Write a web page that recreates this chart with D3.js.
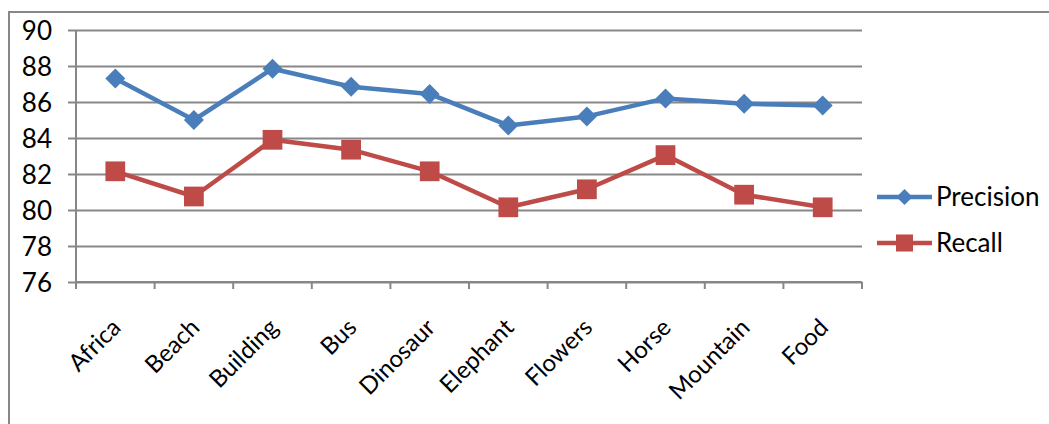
<!DOCTYPE html>
<html>
<head>
<meta charset="utf-8">
<script src="https://cdn.jsdelivr.net/npm/d3@7"></script>
<style>
  body { margin: 0; background: #fff; }
  svg { display: block; font-family: Lato, "Open Sans", sans-serif; }
</style>
</head>
<body>
<svg id="chart" width="1049" height="424"></svg>
<script>
const categories = ["Africa", "Beach", "Building", "Bus", "Dinosaur", "Elephant", "Flowers", "Horse", "Mountain", "Food"];
const precision = [87.3, 85.0, 87.85, 86.85, 86.45, 84.7, 85.2, 86.2, 85.9, 85.8];
const recall = [82.15, 80.75, 83.9, 83.35, 82.15, 80.15, 81.15, 83.05, 80.85, 80.15];
const yTicks = [76, 78, 80, 82, 84, 86, 88, 90];

const svg = d3.select("#chart");
const grey = "#878787";
const colors = {Precision: "#4A7EBB", Recall: "#BE4B48"};
const fontFam = 'Lato, "Open Sans", sans-serif';

// outer chart border (runs off the right and bottom of the picture)
svg.append("rect")
    .attr("x", 9).attr("y", 12)
    .attr("width", 1100).attr("height", 500)
    .attr("fill", "none")
    .attr("stroke", grey)
    .attr("stroke-width", 2);

const plotL = 76, plotR = 862, plotT = 30, plotB = 282;

const x = d3.scaleBand().domain(categories).range([plotL, plotR]);
const y = d3.scaleLinear().domain([76, 90]).range([plotB, plotT]);

// horizontal gridlines + y labels
const yAxis = svg.append("g")
    .attr("transform", `translate(${plotL},0)`)
    .call(d3.axisLeft(y).tickValues(yTicks).tickSize(-(plotR - plotL)).tickPadding(24).tickFormat(d3.format("d")))
    .attr("font-family", fontFam);
yAxis.select(".domain").remove();
yAxis.selectAll(".tick line").attr("stroke", grey).attr("stroke-width", 2).attr("x1", -8);
yAxis.selectAll(".tick text")
    .attr("fill", "#000")
    .style("font-size", "26px")
    .attr("dy", "0.36em");

// vertical axis line
svg.append("line")
    .attr("x1", plotL).attr("x2", plotL)
    .attr("y1", plotT).attr("y2", plotB)
    .attr("stroke", grey).attr("stroke-width", 2);

// x axis with tick marks on the category boundaries
const xg = svg.append("g").attr("transform", `translate(0,${plotB})`);
xg.append("line")
    .attr("x1", plotL).attr("x2", plotR)
    .attr("stroke", grey).attr("stroke-width", 2);
const bounds = categories.map(c => x(c)).concat([plotR]);
xg.selectAll("line.tk")
    .data(bounds)
    .join("line")
    .attr("class", "tk")
    .attr("x1", d => d).attr("x2", d => d)
    .attr("y1", 0).attr("y2", 7)
    .attr("stroke", grey).attr("stroke-width", 2);

xg.selectAll("text")
    .data(categories)
    .join("text")
    .attr("transform", d => `translate(${x(d) + x.bandwidth() / 2 + 7},${47}) rotate(-45)`)
    .attr("text-anchor", "end")
    .style("font-size", "24px")
    .attr("fill", "#000")
    .text(d => d);

// series (diamond = square turned by 45 degrees)
const series = [
    {name: "Precision", values: precision, rot: 45, size: 200, legendSize: 130},
    {name: "Recall", values: recall, rot: 0, size: 390, legendSize: 290}
];

const line = d3.line()
    .x((d, i) => x(categories[i]) + x.bandwidth() / 2)
    .y(d => y(d));

series.forEach(s => {
    svg.append("path")
        .datum(s.values)
        .attr("d", line)
        .attr("fill", "none")
        .attr("stroke", colors[s.name])
        .attr("stroke-width", 4.5)
        .attr("stroke-linejoin", "round");
    svg.append("g")
        .selectAll("path")
        .data(s.values)
        .join("path")
        .attr("transform", (d, i) => `translate(${x(categories[i]) + x.bandwidth() / 2},${y(d)}) rotate(${s.rot})`)
        .attr("d", d3.symbol().type(d3.symbolSquare).size(s.size))
        .attr("fill", colors[s.name]);
});

// legend
const legend = svg.append("g")
    .selectAll("g")
    .data(series)
    .join("g")
    .attr("transform", (d, i) => `translate(877,${197 + i * 46})`);
legend.append("line")
    .attr("x1", 0).attr("x2", 55)
    .attr("stroke", d => colors[d.name])
    .attr("stroke-width", 4.5);
legend.append("path")
    .attr("transform", d => `translate(27.5,0) rotate(${d.rot})`)
    .attr("d", d => d3.symbol().type(d3.symbolSquare).size(d.legendSize)())
    .attr("fill", d => colors[d.name]);
legend.append("text")
    .attr("x", 59)
    .attr("dy", "0.36em")
    .style("font-size", "26px")
    .attr("fill", "#000")
    .text(d => d.name);
</script>
</body>
</html>
